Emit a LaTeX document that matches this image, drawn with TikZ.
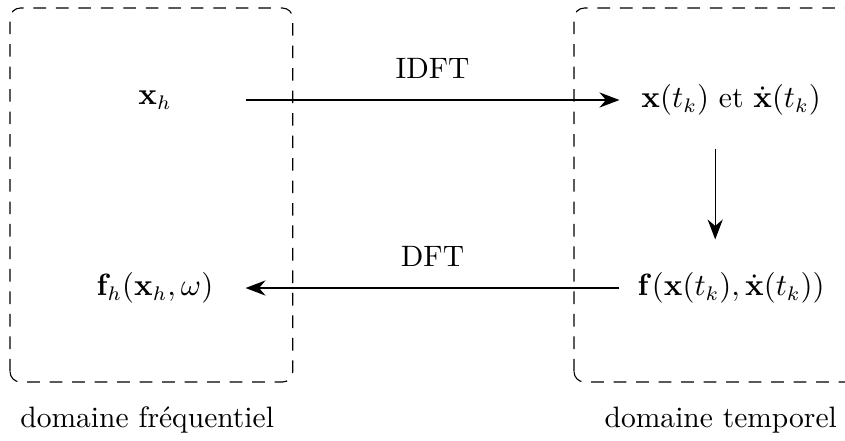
\documentclass[tikz,border=0pt]{standalone}
\usepackage{amsmath}
\usepackage{amssymb}
\usetikzlibrary{arrows.meta}

\begin{document}
\begin{tikzpicture}[
	>={Stealth[length=2.5mm, width=1.9mm]},
	every node/.style={font=\fontsize{10.5}{12.6}\selectfont},
	freq/.style={minimum width=2.25cm, minimum height=1.2cm},
	temps/.style={minimum width=2.78cm, minimum height=1.2cm},
	domaine/.style={dash pattern=on 4.5pt off 3.5pt, rounded corners=0.13cm}]
	\useasboundingbox (0,0) rectangle (10.5625,5.5);
	\draw[domaine] (0.125,0.725) rectangle (3.66,5.4);
	\draw[domaine] (7.175,0.725) rectangle (10.71,5.4);
	\node[freq] (xh) at (1.9375,4.25) {$\mathbf{x}_h$};
	\node[freq] (fh) at (1.9375,1.9) {$\mathbf{f}_h(\mathbf{x}_h,\omega)$};
	\node[temps] (xt) at (9.14,4.25) {$\mathbf{x}(t_k)$ et $\dot{\mathbf{x}}(t_k)$};
	\node[temps] (ft) at (9.14,1.9) {$\mathbf{f}(\mathbf{x}(t_k),\dot{\mathbf{x}}(t_k))$};
	\draw[->] (xh) -- node[above=4pt] {IDFT} (xt);
	\draw[->] ([xshift=-0.2cm]xt.south) -- ([xshift=-0.2cm]ft.north);
	\draw[->] (ft) -- node[above=4pt] {DFT} (fh);
	\node at (1.84,0.25) {domaine fréquentiel};
	\node at (9.01,0.25) {domaine temporel};
\end{tikzpicture}
\end{document}
